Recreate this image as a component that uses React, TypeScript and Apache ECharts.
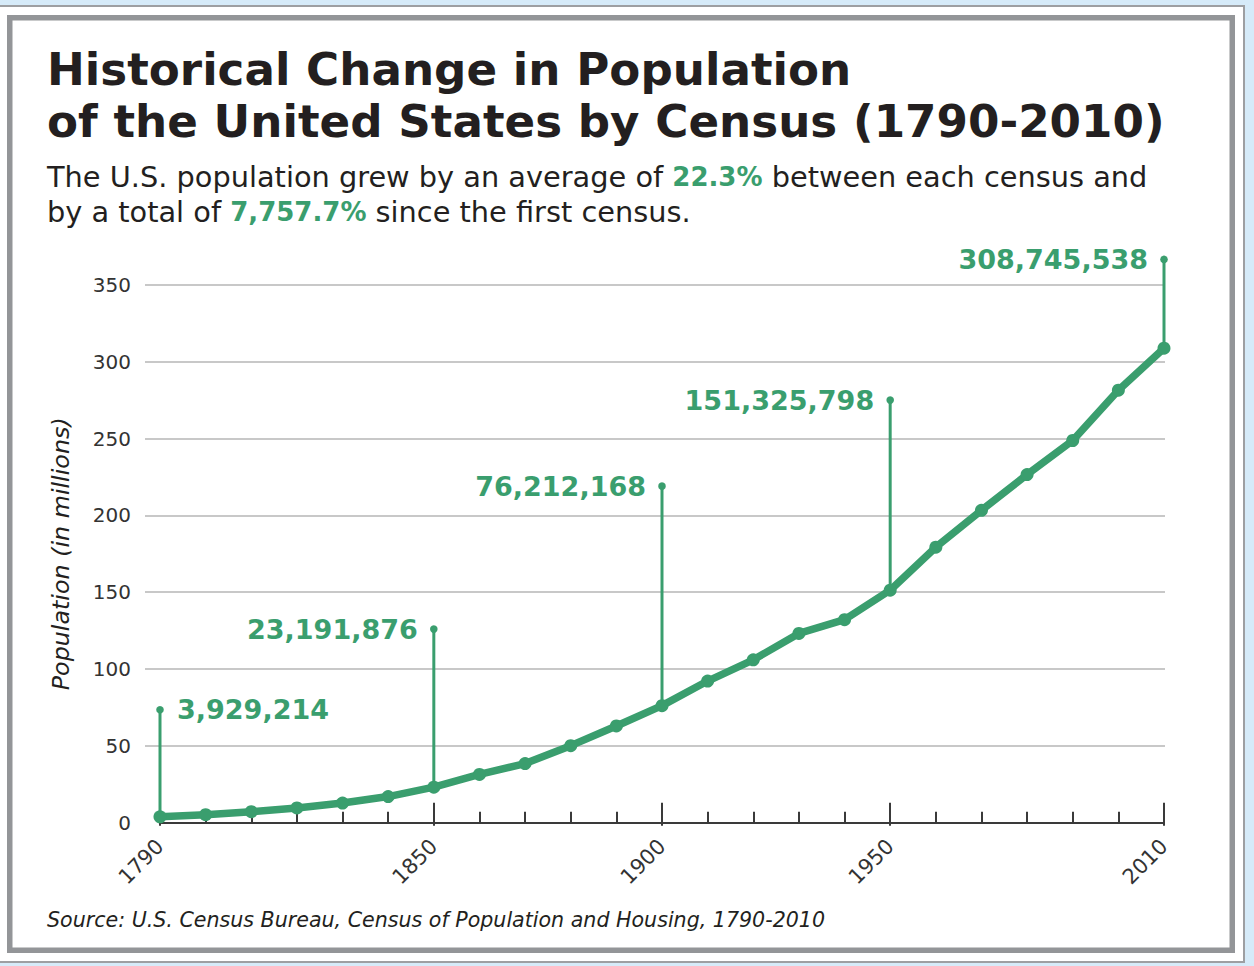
import React, { useEffect, useRef } from "react";
import * as echarts from "echarts";

const years = ["1790","1800","1810","1820","1830","1840","1850","1860","1870","1880","1890","1900","1910","1920","1930","1940","1950","1960","1970","1980","1990","2000","2010"];
const population = [3.93, 5.31, 7.24, 9.64, 12.87, 17.07, 23.19, 31.44, 38.56, 50.19, 62.98, 76.21, 92.23, 106.02, 123.2, 132.17, 151.33, 179.32, 203.3, 226.55, 248.71, 281.42, 308.75];
const labeledYears = ["1790", "1850", "1900", "1950", "2010"];
const calloutYears = ["1790", "1850", "1900", "1950", "2010"];
const calloutTops = [73.5, 126, 219, 275, 366.5];
const calloutLabels = ["3,929,214", "23,191,876", "76,212,168", "151,325,798", "308,745,538"];
const yTicks = [0, 50, 100, 150, 200, 250, 300, 350];

const GREEN = "#3a9e6e";
const DARK = "#231f20";
const FONT = "DejaVu Sans";

export default function App() {
  const ref = useRef<HTMLDivElement>(null);
  useEffect(() => {
    if (!ref.current) return;
    const chart = echarts.init(ref.current, null, { renderer: "svg" });
    const calloutData = calloutYears.map((y, i) => {
      const idx = years.indexOf(y);
      return [idx, population[idx], calloutTops[i]];
    });
    const option: any = {
      animation: false,
      backgroundColor: "#d6ebf9",
      graphic: [
        { type: "rect", z: -10, shape: { x: -5, y: 6, width: 1249, height: 956 }, style: { fill: "#ffffff", stroke: "#9d9fa2", lineWidth: 2 } },
        { type: "rect", z: -9, shape: { x: 9.75, y: 17.75, width: 1222.5, height: 932.5 }, style: { fill: "#ffffff", stroke: "#939598", lineWidth: 5.5 } },
        {
          type: "text", x: 47, y: 43, z: 10,
          style: { text: "Historical Change in Population\nof the United States by Census (1790-2010)", fill: DARK, fontSize: 45.2, fontWeight: "bold", fontFamily: FONT, lineHeight: 52, verticalAlign: "top" },
        },
        {
          type: "text", x: 47, y: 159, z: 10,
          style: {
            text: "The U.S. population grew by an average of {g|22.3%} between each census and\nby a total of {g|7,757.7%} since the first census.",
            fill: DARK, fontSize: 28.8, fontFamily: FONT, lineHeight: 35, verticalAlign: "top",
            rich: { g: { fill: GREEN, fontWeight: "bold", fontSize: 26, fontFamily: FONT, lineHeight: 35 } },
          },
        },
        {
          type: "text", x: 47, y: 920, z: 10,
          style: { text: "Source: U.S. Census Bureau, Census of Population and Housing, 1790-2010", fill: DARK, fontSize: 20.6, fontStyle: "italic", fontFamily: FONT, verticalAlign: "middle" },
        },
      ],
      grid: [
        { left: 145, width: 1020, top: 284.8, bottom: 966 - 822.8 },
        { left: 160, width: 1004, top: 822.8 - 400 * (538 / 350), bottom: 966 - 822.8 },
      ],
      xAxis: [
        { gridIndex: 0, type: "value", min: 0, max: 1, show: false },
        {
          gridIndex: 1, type: "category", data: years, boundaryGap: false, offset: 3,
          axisLine: { lineStyle: { color: "#3a3a3a", width: 2 } },
          axisTick: { show: true, inside: true, length: 11, interval: 0, lineStyle: { color: "#3a3a3a", width: 2 } },
          axisLabel: {
            rotate: 45, margin: 17, fontSize: 21, color: "#333333", fontFamily: FONT,
            interval: (i: number) => labeledYears.includes(years[i]),
          },
        },
        {
          gridIndex: 1, type: "category", data: years, boundaryGap: false, offset: 3, position: "bottom",
          axisLine: { show: false },
          axisTick: { show: true, inside: true, length: 23, interval: (i: number) => labeledYears.includes(years[i]), lineStyle: { color: "#3a3a3a", width: 2 } },
          axisLabel: { show: false },
        },
      ],
      yAxis: [
        {
          gridIndex: 0, type: "value", min: yTicks[0], max: yTicks[yTicks.length - 1], interval: 50,
          axisLine: { show: false }, axisTick: { show: false },
          axisLabel: { fontSize: 20, color: "#333333", fontFamily: FONT, margin: 14 },
          splitLine: { show: true, showMinLine: false, lineStyle: { color: "#c8c8c8", width: 2 } },
          name: "Population (in millions)", nameLocation: "middle", nameGap: 72,
          nameTextStyle: { fontSize: 23.8, fontStyle: "italic", color: DARK, fontFamily: FONT },
        },
        { gridIndex: 1, type: "value", min: 0, max: 400, show: false, splitLine: { show: false } },
      ],
      series: [
        {
          type: "custom", xAxisIndex: 1, yAxisIndex: 1, z: 3, clip: false,
          data: calloutData,
          renderItem: (params: any, api: any) => {
            const i = params.dataIndex;
            const p0 = api.coord([api.value(0), api.value(1)]);
            const p1 = api.coord([api.value(0), api.value(2)]);
            const right = i === 0;
            return {
              type: "group",
              children: [
                { type: "line", shape: { x1: p0[0], y1: p0[1], x2: p1[0], y2: p1[1] }, style: { stroke: GREEN, lineWidth: 3 } },
                { type: "circle", shape: { cx: p1[0], cy: p1[1], r: 3.8 }, style: { fill: GREEN } },
                {
                  type: "text", x: right ? p1[0] + 17 : p1[0] - 16, y: p1[1],
                  style: { text: calloutLabels[i], fill: GREEN, fontSize: 27, fontWeight: "bold", fontFamily: FONT, align: right ? "left" : "right", verticalAlign: "middle" },
                },
              ],
            };
          },
        },
        {
          type: "line", xAxisIndex: 1, yAxisIndex: 1, z: 5, data: population,
          lineStyle: { color: GREEN, width: 7.5 }, itemStyle: { color: GREEN },
          symbol: "circle", symbolSize: 13, showSymbol: true,
        },
      ],
    };
    chart.setOption(option);
    return () => chart.dispose();
  }, []);
  return <div ref={ref} style={{ position: "absolute", left: 0, top: 0, width: 1254, height: 966 }} />;
}
